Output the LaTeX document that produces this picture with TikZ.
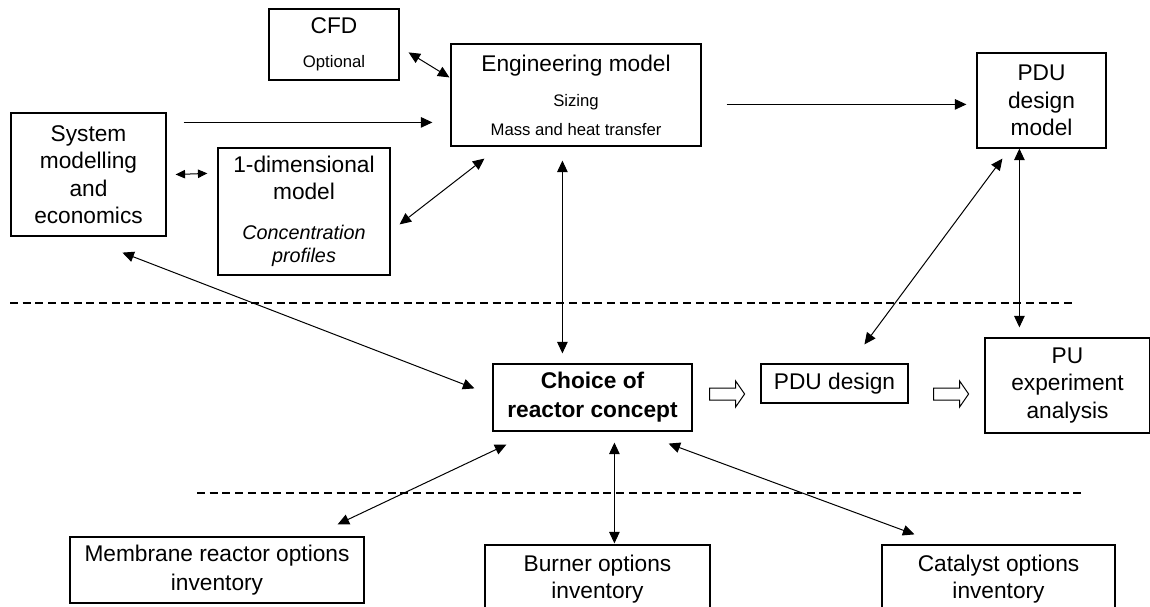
\documentclass[tikz,border=0pt]{standalone}
\usepackage{fontspec}
\setmainfont{Liberation Sans}
\usetikzlibrary{arrows.meta,calc}
\tikzset{
  box/.style={draw, line width=1.2pt, inner sep=0pt, align=center,
    font=\fontsize{22.7}{27.5}\selectfont},
  conn/.style={line width=1pt, {Triangle[length=11.5pt,width=10.5pt]}-{Triangle[length=11.5pt,width=10.5pt]}},
  smallconn/.style={line width=1pt, {Triangle[length=9.5pt,width=8.5pt]}-{Triangle[length=9.5pt,width=8.5pt]}},
  oneway/.style={line width=1pt, -{Triangle[length=11.5pt,width=10.5pt]}},
  sepline/.style={dash pattern=on 8pt off 4.7pt, line width=1.5pt},
  hollow/.style={draw, line width=1pt, fill=white}
}
\newcommand{\smalltxt}{\fontsize{16.7}{27.5}\selectfont}
\newcommand{\ittxt}{\fontsize{19.8}{27.5}\selectfont\itshape}
\begin{document}
\begin{tikzpicture}[x=1pt,y=-1pt]
\useasboundingbox (0,0) rectangle (1150,607);
\clip (0,0) rectangle (1150,607);

% boxes
\node[box, minimum width=130pt, minimum height=71pt] (cfd) at (334,44.5)
  {CFD\\[6.5pt]\smalltxt Optional};
\node[box, minimum width=250pt, minimum height=102pt] (eng) at (576,95)
  {Engineering model\\[7.5pt]\smalltxt Sizing\\[1.5pt]\smalltxt Mass and heat transfer};
\node[box, minimum width=129pt, minimum height=95pt] (pdum) at (1041.5,100.5)
  {PDU\\design\\model};
\node[box, minimum width=155pt, minimum height=123pt] (sys) at (88.5,174.5)
  {System\\modelling\\and\\economics};
\node[box, minimum width=172pt, minimum height=127pt] (oned) at (304,211.5)
  {1-dimensional\\model\\[12.5pt]\ittxt Concentration\\[-4.5pt]\ittxt profiles};
\node[box, minimum width=199pt, minimum height=67pt, font=\fontsize{22.7}{27.5}\selectfont\bfseries] (choice) at (592.5,397.5)
  {Choice of\\[1.5pt]reactor concept};
\node[box, minimum width=147pt, minimum height=39pt] (pdud) at (834.5,383.5)
  {PDU design};
\node[box, minimum width=165pt, minimum height=95pt] (pu) at (1067.5,385.5)
  {PU\\experiment\\analysis};
\node[box, minimum width=294pt, minimum height=66pt] (mem) at (217,570)
  {Membrane reactor options\\[1.5pt]inventory};
\node[box, minimum width=225pt, minimum height=68pt] (burn) at (597.5,579)
  {Burner options\\inventory};
\node[box, minimum width=233pt, minimum height=68pt] (cat) at (998.5,579)
  {Catalyst options\\inventory};

% separators
\draw[sepline] (10,303) -- (1073,303);
\draw[sepline] (197,493) -- (1083,493);

% connectors
\draw[conn] ($(cfd.north east)+(9,44)$) -- ($(eng.north west)+(-1,34)$);
\draw[oneway] ($(sys.north east)+(17,10)$) -- ($(eng.north west)+(-18,79)$);
\draw[oneway] ($(eng.north east)+(25,61)$) -- ($(pdum.north west)+(-10,52)$);
\draw[smallconn] ($(sys.east)+(9,0)$) -- ($(oned.north west)+(-10,26)$);
\draw[conn] ($(oned.north east)+(9,77)$) -- ($(eng.south west)+(34,12)$);
\draw[conn] ($(eng.south west)+(112,14)$) -- ($(choice.north west)+(70,-10)$);
\draw[conn] ($(sys.south west)+(112,16)$) -- ($(choice.north west)+(-18,25)$);
\draw[conn] ($(pdum.south west)+(26,10)$) -- ($(pdud.north west)+(104,-19)$);
\draw[conn] ($(pdum.south west)+(43,0)$) -- ($(pu.north west)+(35,-10)$);
\draw[conn] ($(choice.south west)+(14,13)$) -- ($(mem.north east)+(-27,-12)$);
\draw[conn] ($(choice.south west)+(122,11)$) -- ($(burn.north west)+(130,-1)$);
\draw[conn] ($(choice.south east)+(-24,12)$) -- ($(cat.north west)+(33,-10)$);

% hollow flow arrows
\draw[hollow] ($(choice.east)+(17,-3.5)$) coordinate (h1)
  ++(0,-6) -- ++(26,0) -- ++(0,-7) -- ++(9,13) -- ++(-9,13) -- ++(0,-7) -- ++(-26,0) -- cycle;
\draw[hollow] ($(pdud.east)+(25,10.5)$) coordinate (h2)
  ++(0,-6) -- ++(26,0) -- ++(0,-7) -- ++(9,13) -- ++(-9,13) -- ++(0,-7) -- ++(-26,0) -- cycle;
\end{tikzpicture}
\end{document}
